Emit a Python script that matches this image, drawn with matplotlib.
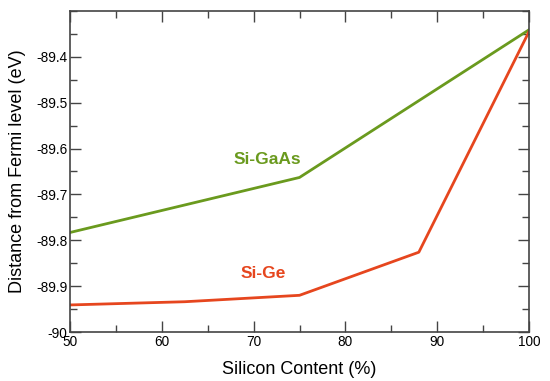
import matplotlib
matplotlib.use('Agg')
import matplotlib.pyplot as plt

plt.rcParams['font.family'] = ['Liberation Sans', 'DejaVu Sans']

si_gaas_x = [50, 75, 100]
si_gaas_y = [-89.783, -89.663, -89.341]

si_ge_x = [50, 62.5, 75, 88, 100]
si_ge_y = [-89.941, -89.934, -89.920, -89.826, -89.345]

xticks = [50, 60, 70, 80, 90, 100]
yticks = [-90, -89.9, -89.8, -89.7, -89.6, -89.5, -89.4]
ytick_labels = ['-90', '-89.9', '-89.8', '-89.7', '-89.6', '-89.5', '-89.4']

green = '#6a9a1e'
red = '#e6461e'

fig = plt.figure(figsize=(5.5, 3.81), dpi=100)
ax = fig.add_axes([70/550, 1-332/381, 459/550, 321/381])

ax.plot(si_gaas_x, si_gaas_y, color=green, linewidth=2)
ax.plot(si_ge_x, si_ge_y, color=red, linewidth=2)

ax.text(71.5, -89.624, 'Si-GaAs', color=green, fontsize=12.5, fontweight='bold',
        ha='center', va='center')
ax.text(71.0, -89.872, 'Si-Ge', color=red, fontsize=12.5, fontweight='bold',
        ha='center', va='center')

ax.set_xlim(50, 100)
ax.set_ylim(-90, -89.3)
ax.set_xticks(xticks)
ax.set_xticklabels([str(v) for v in xticks])
ax.set_yticks(yticks)
ax.set_yticklabels(ytick_labels)
ax.xaxis.set_minor_locator(plt.MultipleLocator(5))
ax.yaxis.set_minor_locator(plt.MultipleLocator(0.05))

ax.tick_params(which='both', direction='in', top=True, right=True,
               color='#444444', labelsize=9.8, pad=2)
ax.tick_params(which='major', length=8, width=1)
ax.tick_params(which='minor', length=5, width=1)
for s in ax.spines.values():
    s.set_color('#444444')
    s.set_linewidth(1.2)

ax.set_xlabel('Silicon Content (%)', fontsize=13, labelpad=9)
ax.set_ylabel('Distance from Fermi level (eV)', fontsize=13, labelpad=7)

fig.savefig('out.png', dpi=100)
